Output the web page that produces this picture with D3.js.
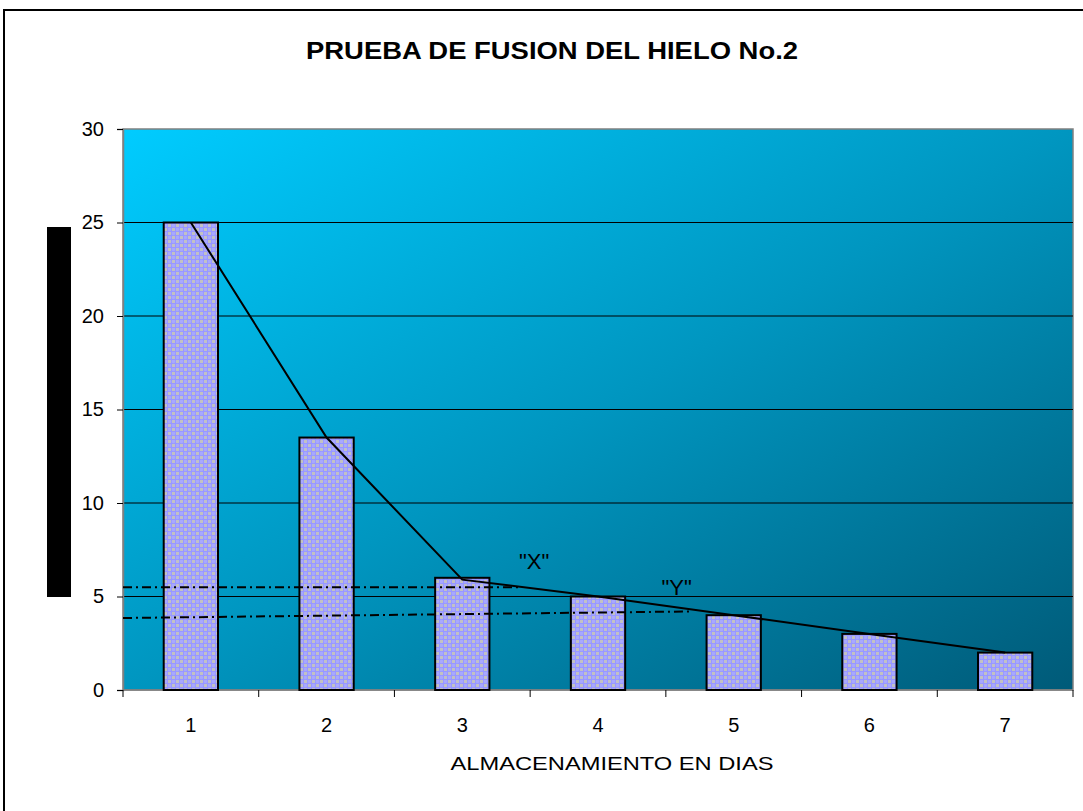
<!DOCTYPE html>
<html>
<head>
<meta charset="utf-8">
<script src="https://cdn.jsdelivr.net/npm/d3@7"></script>
<style>
  html, body { margin: 0; padding: 0; background: #fff; }
  svg { display: block; font-family: "Liberation Sans", Arial, sans-serif; }
</style>
</head>
<body>
<svg id="chart" width="1083" height="811"></svg>
<script>
// Storage days and melted ice per day
const days = ["1", "2", "3", "4", "5", "6", "7"];
const meltValues = [25, 13.5, 6, 5, 4, 3, 2];
const trendValues = [25, 13.5, 5.9, 5.0, 4.0, 3.0, 2.0];
const yTicks = [0, 5, 10, 15, 20, 25, 30];

// Reference lines "X" and "Y": [start day, start value, end day, end value]
const refX = [0.5, 5.5, 3.43, 5.5];
const refY = [0.5, 3.85, 4.68, 4.2];
const refLabels = ['"X"', '"Y"'];
const refLabelPos = [[3.53, 6.45], [4.58, 5.1]];

const titleText = "PRUEBA DE FUSION DEL HIELO No.2";
const xTitle = "ALMACENAMIENTO EN DIAS";

const svg = d3.select("#chart");
const plot = { left: 123, right: 1073, top: 129, bottom: 690 };

const x = d3.scaleBand().domain(days).range([plot.left, plot.right])
  .paddingInner(0.6).paddingOuter(0.3);
const xLin = d3.scaleLinear().domain([0.5, days.length + 0.5]).range([plot.left, plot.right]);
const y = d3.scaleLinear().domain([0, 30]).range([plot.bottom, plot.top]);

const defs = svg.append("defs");
const grad = defs.append("linearGradient").attr("id", "bg")
  .attr("x1", "0").attr("y1", "0").attr("x2", "1").attr("y2", "1");
grad.append("stop").attr("offset", "0").attr("stop-color", "#00ccff");
grad.append("stop").attr("offset", "0.5").attr("stop-color", "#0096c0");
grad.append("stop").attr("offset", "1").attr("stop-color", "#005a78");

// Lavender bubble / checker fill for the bars
const pat = defs.append("pattern").attr("id", "bubbles")
  .attr("patternUnits", "userSpaceOnUse").attr("width", 8).attr("height", 8);
pat.append("rect").attr("width", 8).attr("height", 8).attr("fill", "#9898ff");
pat.append("rect").attr("x", 0).attr("y", 0).attr("width", 3).attr("height", 3).attr("fill", "#c2c2c2");
pat.append("rect").attr("x", 4).attr("y", 4).attr("width", 3).attr("height", 3).attr("fill", "#c2c2c2");
pat.append("circle").attr("cx", 5.5).attr("cy", 1.5).attr("r", 1.8).attr("fill", "#a8a8ff");
pat.append("circle").attr("cx", 1.5).attr("cy", 5.5).attr("r", 1.8).attr("fill", "#a8a8ff");

// Outer frame
svg.append("rect").attr("x", 4).attr("y", 10).attr("width", 1100).attr("height", 830)
  .attr("fill", "#fff").attr("stroke", "#000").attr("stroke-width", 2);

// Title
svg.append("text").attr("x", 552).attr("y", 59).attr("text-anchor", "middle")
  .attr("font-size", 23).attr("font-weight", "bold")
  .attr("textLength", 492).attr("lengthAdjust", "spacingAndGlyphs").text(titleText);

// Plot background
svg.append("rect").attr("x", plot.left).attr("y", plot.top)
  .attr("width", plot.right - plot.left).attr("height", plot.bottom - plot.top)
  .attr("fill", "url(#bg)").attr("stroke", "#808080").attr("stroke-width", 1.5);

// Gridlines
svg.append("g").selectAll("line").data(yTicks.filter(d => d > 0 && d < 30)).join("line")
  .attr("x1", plot.left).attr("x2", plot.right)
  .attr("y1", d => y(d)).attr("y2", d => y(d))
  .attr("stroke", "#000").attr("stroke-width", 1);

// Y axis
const yAxis = svg.append("g").attr("transform", `translate(${plot.left},0)`)
  .call(d3.axisLeft(y).tickValues(yTicks).tickSize(6).tickPadding(13));
yAxis.select(".domain").attr("stroke", "#808080").attr("stroke-width", 1.5);
yAxis.selectAll(".tick line").attr("stroke", "#000");
yAxis.selectAll(".tick text").attr("font-size", 20).attr("fill", "#000")
  .attr("font-family", "Liberation Sans, Arial, sans-serif");

// X axis with ticks on category boundaries
const xAxisG = svg.append("g").attr("transform", `translate(0,${plot.bottom})`);
xAxisG.append("line").attr("x1", plot.left).attr("x2", plot.right)
  .attr("stroke", "#808080").attr("stroke-width", 1.5);
const bounds = d3.range(days.length + 1).map(i => i + 0.5);
xAxisG.selectAll("line.tk").data(bounds).join("line").attr("class", "tk")
  .attr("x1", d => xLin(d)).attr("x2", d => xLin(d)).attr("y1", 0).attr("y2", 7)
  .attr("stroke", "#000");
xAxisG.selectAll("text").data(days).join("text")
  .attr("x", d => x(d) + x.bandwidth() / 2).attr("y", 42)
  .attr("text-anchor", "middle").attr("font-size", 20).text(d => d);

svg.append("text").attr("x", 612).attr("y", 770).attr("text-anchor", "middle")
  .attr("font-size", 18).attr("textLength", 323).attr("lengthAdjust", "spacingAndGlyphs")
  .text(xTitle);

// Black block beside the value axis
svg.append("rect").attr("x", 47).attr("y", 227).attr("width", 24).attr("height", 370).attr("fill", "#000");

// Bars
svg.append("g").selectAll("rect").data(meltValues).join("rect")
  .attr("x", (d, i) => x(days[i])).attr("width", x.bandwidth())
  .attr("y", d => y(d)).attr("height", d => y(0) - y(d))
  .attr("fill", "url(#bubbles)").attr("stroke", "#000").attr("stroke-width", 2);

// Reference dash-dot lines
[refX, refY].forEach(r => {
  svg.append("line")
    .attr("x1", xLin(r[0])).attr("y1", y(r[1]))
    .attr("x2", xLin(r[2])).attr("y2", y(r[3]))
    .attr("stroke", "#000").attr("stroke-width", 2)
    .attr("stroke-dasharray", "9,4,2,4");
});
svg.append("g").selectAll("text").data(refLabels).join("text")
  .attr("x", (d, i) => xLin(refLabelPos[i][0])).attr("y", (d, i) => y(refLabelPos[i][1]))
  .attr("text-anchor", "middle").attr("font-size", 22).text(d => d);

// Trend line
const line = d3.line().x((d, i) => x(days[i]) + x.bandwidth() / 2).y(d => y(d));
svg.append("path").datum(trendValues).attr("d", line)
  .attr("fill", "none").attr("stroke", "#000").attr("stroke-width", 2);
</script>
</body>
</html>
